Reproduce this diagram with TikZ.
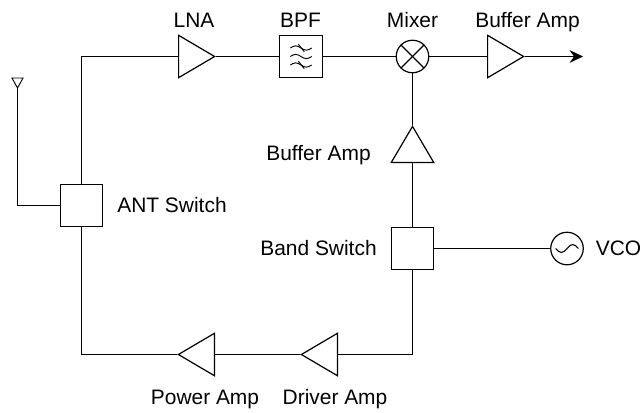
\documentclass[tikz,border=0pt]{standalone}
\usepackage{fontspec}
\setmainfont{Liberation Sans}
\usetikzlibrary{shapes.geometric,arrows.meta}

\begin{document}
\begin{tikzpicture}[
x=0.75pt, y=-0.75pt, line width=0.9pt,
lbl/.style={font=\fontsize{15.7}{18}\selectfont, text height=0.72em, text depth=0.21em, inner sep=0pt},
amp/.style={isosceles triangle, isosceles triangle stretches, draw, fill=white, inner sep=0pt, minimum width=31.8pt, minimum height=27pt},
swbox/.style={rectangle, draw, fill=white, inner sep=0pt, minimum size=31.8pt},
filterbox/.style={swbox, path picture={
  \foreach \dy in {-8.5,0,8.5} {
    \draw[line width=0.7pt] ([xshift=-8pt,yshift=\dy*0.75pt]path picture bounding box.center) sin ++(4pt,1.6pt) cos ++(4pt,-1.6pt) sin ++(4pt,-1.6pt) cos ++(4pt,1.6pt);
  }
  \foreach \dy in {-8.5,8.5} {
    \draw[line width=0.7pt] ([xshift=-2pt,yshift=\dy*-0.75pt+2.8pt]path picture bounding box.center) -- +(4.5pt,-5.6pt);
  }
}},
mixer/.style={circle, draw, fill=white, inner sep=0pt, minimum size=24.4pt, path picture={
  \draw (path picture bounding box.north west) -- (path picture bounding box.south east);
  \draw (path picture bounding box.south west) -- (path picture bounding box.north east);
}},
osc/.style={circle, draw, fill=white, inner sep=0pt, minimum size=24.4pt, path picture={
  \draw[line width=0.8pt] ([xshift=-8.5pt]path picture bounding box.center) sin ++(4.25pt,-3pt) cos ++(4.25pt,3pt) sin ++(4.25pt,3pt) cos ++(4.25pt,-3pt);
}},
]
\useasboundingbox (0,0) rectangle (642,412);

\node[amp, anchor=lower side] at(178,56.5) (lna) {};
\node[filterbox] at(301,56.5) (bpf) {};
\node[mixer] at(412.5,56.5) (mix) {};
\node[amp, anchor=lower side] at(487,56.5) (bufout) {};
\coordinate (out) at (583,56.5);

\node[amp, shape border rotate=90, anchor=lower side] at(412.5,163) (buflo) {};
\node[swbox] at(412.5,248.5) (band) {};
\node[osc] at(567,248.5) (vco) {};
\node[amp, shape border rotate=180, anchor=lower side] at(338,354.5) (driver) {};
\node[amp, shape border rotate=180, anchor=lower side] at(215,354.5) (power) {};
\node[swbox] at(81.5,205.5) (ant) {};

% antenna
\coordinate (anttip) at (17.5,88);
\coordinate (antend) at (17.5,205.5);
\draw[line width=0.7pt] (anttip) -- (12,78) -- (23,78) -- cycle;
\draw (anttip) -- (antend) -- (ant);

\draw (ant.north) |- (lna.lower side);
\draw (lna.apex) -- (bpf);
\draw (bpf) -- (mix);
\draw (mix) -- (bufout.lower side);
\draw[-{Stealth[length=10pt,width=9.5pt]}] (bufout.apex) -- (out);
\draw (buflo.apex) -- (mix);
\draw (band) -- (buflo.lower side);
\draw (band) -- (vco);
\draw (band.south) |- (driver.lower side);
\draw (driver.apex) -- (power.lower side);
\draw (power.apex) -| (ant.south);

\node[lbl] at(194,24) (lnalabel) {LNA};
\node[lbl] at(300.5,24) (bpflabel) {BPF};
\node[lbl] at(412.5,24) (mixlabel) {Mixer};
\node[lbl] at(527.5,24) (bufoutlabel) {Buffer Amp};
\node[lbl] at(318.5,157) (bufloabel) {Buffer Amp};
\node[lbl] at(172,209) (antlabel) {ANT Switch};
\node[lbl] at(318.5,252) (bandlabel) {Band Switch};
\node[lbl] at(618.5,252) (vcolabel) {VCO};
\node[lbl] at(205,401) (powerlabel) {Power Amp};
\node[lbl] at(335,401) (driverlabel) {Driver Amp};

\end{tikzpicture}
\end{document}
